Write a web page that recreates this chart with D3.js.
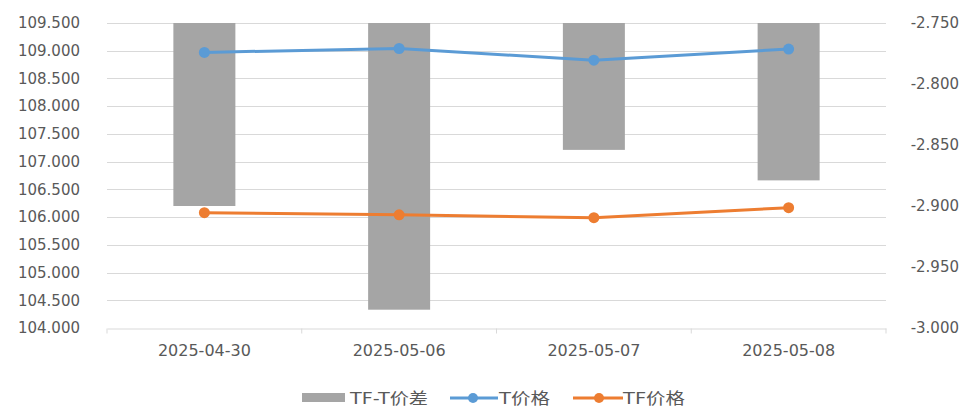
<!DOCTYPE html>
<html>
<head>
<meta charset="utf-8">
<script src="https://cdn.jsdelivr.net/npm/d3@7"></script>
<style>
  body { margin: 0; background: #fff; }
  text { font-family: "DejaVu Sans", "Noto Sans CJK SC", sans-serif; }
</style>
</head>
<body>
<div id="chart"></div>
<script>
var dates = ['2025-04-30', '2025-05-06', '2025-05-07', '2025-05-08'];
var spread = [-2.900, -2.985, -2.854, -2.879];
var tPrice = [108.97, 109.04, 108.83, 109.03];
var tfPrice = [106.08, 106.04, 105.99, 106.17];
var leftTicks = d3.range(104, 109.5001, 0.5);
var rightTicks = d3.range(-3.0, -2.7499, 0.05);

var width = 964, height = 408;
var plotLeft = 107, plotRight = 886, plotTop = 23, plotBottom = 328;

var fmt = function(d) { return d3.format('.3f')(d).replace('\u2212', '-'); };

var svg = d3.select('#chart').append('svg')
  .attr('width', width)
  .attr('height', height);

var x = d3.scaleBand().domain(dates).range([plotLeft, plotRight]);
var yL = d3.scaleLinear().domain([104, 109.5]).range([plotBottom, plotTop]);
var yR = d3.scaleLinear().domain([-3.0, -2.75]).range([plotBottom, plotTop]);

// gridlines
svg.append('g').selectAll('line')
  .data(leftTicks.slice(1))
  .enter().append('line')
  .attr('x1', plotLeft).attr('x2', plotRight)
  .attr('y1', function(d) { return Math.round(yL(d)) + 0.5; })
  .attr('y2', function(d) { return Math.round(yL(d)) + 0.5; })
  .attr('stroke', '#d9d9d9').attr('stroke-width', 1);

// bars hang from the top of the right axis
var bw = 62;
svg.append('g').selectAll('rect')
  .data(spread)
  .enter().append('rect')
  .attr('x', function(d, i) { return x(dates[i]) + x.bandwidth() / 2 - bw / 2; })
  .attr('y', yR(-2.75))
  .attr('width', bw)
  .attr('height', function(d) { return yR(d) - yR(-2.75); })
  .attr('fill', '#a5a5a5');

// x axis
var xAxis = svg.append('g')
  .attr('transform', 'translate(0,' + (plotBottom + 0.5) + ')')
  .call(d3.axisBottom(x).tickSize(0).tickPadding(16));
xAxis.select('.domain').attr('stroke', '#d9d9d9');
xAxis.selectAll('text').attr('fill', '#595959').style('font-size', '16px');
xAxis.selectAll('.sep')
  .data(d3.range(dates.length + 1))
  .enter().append('line')
  .attr('x1', function(i) { return plotLeft + i * x.step(); })
  .attr('x2', function(i) { return plotLeft + i * x.step(); })
  .attr('y1', 0).attr('y2', 5)
  .attr('stroke', '#d9d9d9');

// left axis
var yAxisL = svg.append('g')
  .attr('transform', 'translate(' + (plotLeft - 27) + ',0)')
  .call(d3.axisLeft(yL).tickValues(leftTicks).tickSize(0).tickFormat(fmt));
yAxisL.select('.domain').remove();
yAxisL.selectAll('text').attr('fill', '#595959').style('font-size', '15px').attr('text-anchor', 'end').attr('x', 0);

// right axis
var yAxisR = svg.append('g')
  .attr('transform', 'translate(' + (plotRight + 73) + ',0)')
  .call(d3.axisRight(yR).tickValues(rightTicks).tickSize(0).tickFormat(fmt));
yAxisR.select('.domain').remove();
yAxisR.selectAll('text').attr('fill', '#595959').style('font-size', '15px').attr('text-anchor', 'end').attr('x', 0);

function drawLine(values, color) {
  var line = d3.line()
    .x(function(d, i) { return x(dates[i]) + x.bandwidth() / 2; })
    .y(function(d) { return yL(d); });
  svg.append('path')
    .datum(values)
    .attr('d', line)
    .attr('fill', 'none')
    .attr('stroke', color)
    .attr('stroke-width', 3)
    .attr('stroke-linejoin', 'round');
  svg.append('g').selectAll('circle')
    .data(values)
    .enter().append('circle')
    .attr('cx', function(d, i) { return x(dates[i]) + x.bandwidth() / 2; })
    .attr('cy', function(d) { return yL(d); })
    .attr('r', 5.5)
    .attr('fill', color);
}
drawLine(tPrice, '#5b9bd5');
drawLine(tfPrice, '#ed7d31');

// legend
var lg = svg.append('g').attr('transform', 'translate(0,398)');
lg.append('rect').attr('x', 302).attr('y', -5).attr('width', 43).attr('height', 9).attr('fill', '#a5a5a5');
lg.append('text').attr('x', 350).attr('y', 6).text('TF-T价差')
  .attr('textLength', 78).attr('lengthAdjust', 'spacingAndGlyphs')
  .attr('fill', '#595959').style('font-size', '16px');

lg.append('line').attr('x1', 450).attr('x2', 498).attr('y1', 0).attr('y2', 0).attr('stroke', '#5b9bd5').attr('stroke-width', 3);
lg.append('circle').attr('cx', 473).attr('cy', 0).attr('r', 5).attr('fill', '#5b9bd5');
lg.append('text').attr('x', 499).attr('y', 6).text('T价格')
  .attr('textLength', 51).attr('lengthAdjust', 'spacingAndGlyphs')
  .attr('fill', '#595959').style('font-size', '16px');

lg.append('line').attr('x1', 573).attr('x2', 623).attr('y1', 0).attr('y2', 0).attr('stroke', '#ed7d31').attr('stroke-width', 3);
lg.append('circle').attr('cx', 599).attr('cy', 0).attr('r', 5).attr('fill', '#ed7d31');
lg.append('text').attr('x', 623).attr('y', 6).text('TF价格')
  .attr('textLength', 62).attr('lengthAdjust', 'spacingAndGlyphs')
  .attr('fill', '#595959').style('font-size', '16px');
</script>
</body>
</html>
